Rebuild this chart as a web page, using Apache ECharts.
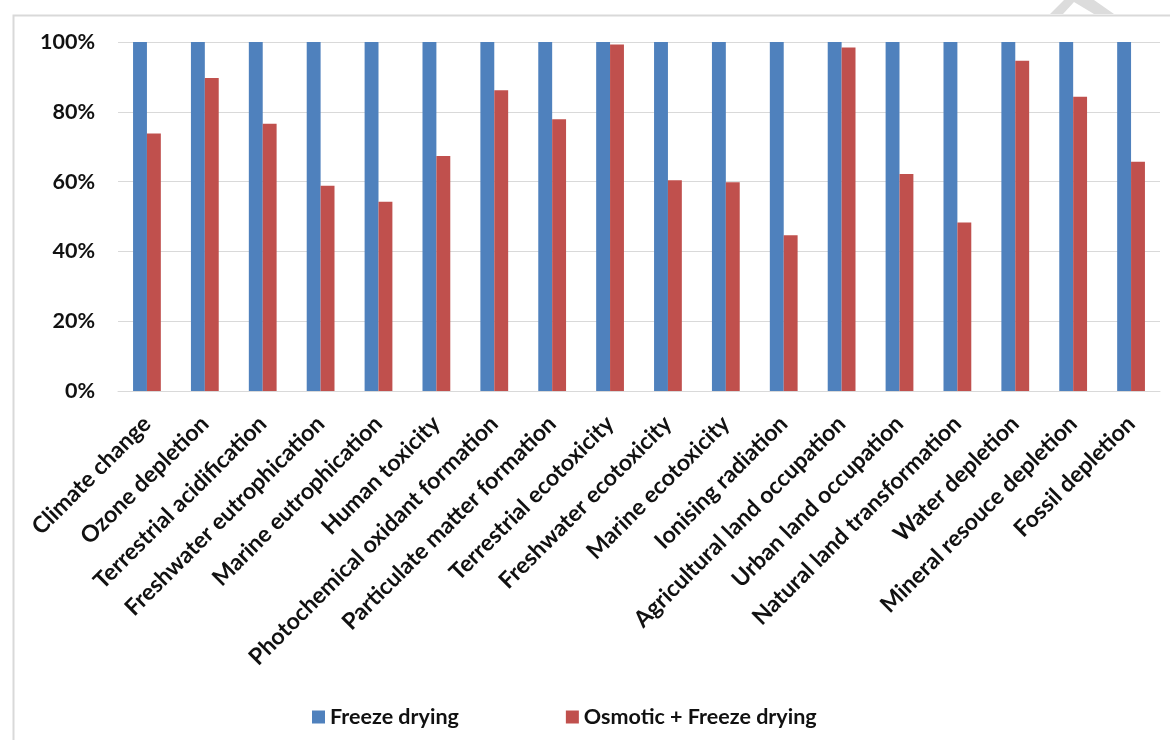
<!DOCTYPE html>
<html>
<head>
<meta charset="utf-8">
<script src="https://cdn.jsdelivr.net/npm/echarts@6/dist/echarts.min.js"></script>
<style>
  html, body { margin: 0; padding: 0; background: #fff; }
  #chart { width: 1170px; height: 740px; }
</style>
</head>
<body>
<div id="chart"></div>
<script>
// Impact categories (x axis)
const categories = [
  'Climate change', 'Ozone depletion', 'Terrestrial acidification',
  'Freshwater eutrophication', 'Marine eutrophication', 'Human toxicity',
  'Photochemical oxidant formation', 'Particulate matter formation',
  'Terrestrial ecotoxicity', 'Freshwater ecotoxicity', 'Marine ecotoxicity',
  'Ionising radiation', 'Agricultural land occupation', 'Urban land occupation',
  'Natural land transformation', 'Water depletion', 'Mineral resouce depletion',
  'Fossil depletion'
];

// Relative impact, % of the freeze-drying reference
const freezeDrying = [100, 100, 100, 100, 100, 100, 100, 100, 100, 100, 100, 100, 100, 100, 100, 100, 100, 100];
const osmoticFreezeDrying = [73.8, 89.7, 76.6, 58.8, 54.2, 67.3, 86.2, 77.9, 99.3, 60.4, 59.8, 44.6, 98.4, 62.2, 48.3, 94.6, 84.3, 65.7];

// Y axis ticks
const yMin = 0, yMax = 100, yStep = 20;

const seriesNames = ['Freeze drying', 'Osmotic + Freeze drying'];
const colors = ['#4F81BD', '#C0504D'];

const font = 'Lato, "Open Sans", "Liberation Sans", sans-serif';

const chart = echarts.init(document.getElementById('chart'), null, { renderer: 'canvas' });

chart.setOption({
  animation: false,
  backgroundColor: '#ffffff',
  color: colors,
  textStyle: { fontFamily: font },
  graphic: [
    {
      type: 'rect',
      shape: { x: 13.5, y: 15.5, width: 1200, height: 800 },
      style: { fill: 'none', stroke: '#d9d9d9', lineWidth: 2 },
      silent: true,
      z: -1
    },
    {
      type: 'polygon',
      shape: { points: [[1050, 14], [1064, 0], [1094, 0], [1114, 14], [1094, 14], [1074, 2], [1063, 14]] },
      style: { fill: '#dcdcdc' },
      silent: true
    }
  ],
  grid: {
    left: 118,
    right: 10,
    top: 42,
    height: 349,
    containLabel: false
  },
  legend: {
    data: seriesNames,
    left: 307,
    top: 701,
    itemWidth: 13,
    itemHeight: 13,
    itemGap: 107,
    icon: 'rect',
    textStyle: { fontFamily: font, fontSize: 21.5, fontWeight: 'bold', color: '#111' }
  },
  xAxis: {
    type: 'category',
    data: categories,
    axisLine: { show: true, lineStyle: { color: '#d9d9d9', width: 1 } },
    axisTick: { show: false },
    axisLabel: {
      interval: 0,
      rotate: 45,
      margin: 29,
      fontFamily: font,
      fontSize: 23,
      fontWeight: 'bold',
      color: '#111'
    }
  },
  yAxis: {
    type: 'value',
    min: yMin,
    max: yMax,
    interval: yStep,
    axisLine: { show: false },
    axisTick: { show: false },
    splitLine: { lineStyle: { color: '#d9d9d9', width: 1 } },
    axisLabel: {
      formatter: '{value}%',
      margin: 23,
      fontFamily: font,
      fontSize: 21.5,
      fontWeight: 'bold',
      color: '#111'
    }
  },
  series: [
    {
      name: seriesNames[0],
      type: 'bar',
      data: freezeDrying,
      barGap: '0%',
      barCategoryGap: '52%',
      itemStyle: { color: colors[0] }
    },
    {
      name: seriesNames[1],
      type: 'bar',
      data: osmoticFreezeDrying,
      barGap: '0%',
      barCategoryGap: '52%',
      itemStyle: { color: colors[1] }
    }
  ]
});
</script>
</body>
</html>
